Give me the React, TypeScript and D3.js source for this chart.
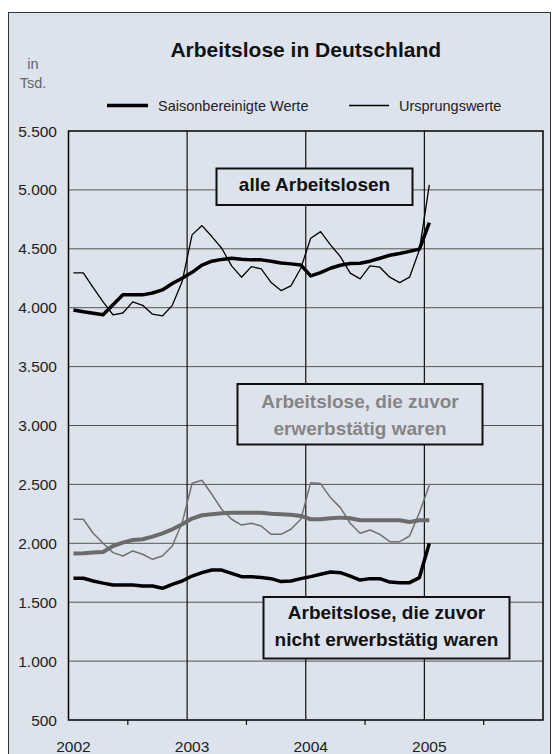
import React, { useEffect, useRef } from "react";
import * as d3 from "d3";

// Jan 2002 .. Jan 2005, in Tsd.
const years = ["2002", "2003", "2004", "2005"];
const yTicks = [500, 1000, 1500, 2000, 2500, 3000, 3500, 4000, 4500, 5000, 5500];

const alleSA = [
  3981, 3965, 3952, 3940, 4025, 4109, 4109, 4109, 4125, 4151, 4205, 4250,
  4300, 4362, 4395, 4410, 4420, 4412, 4406, 4406, 4395, 4380, 4372, 4363,
  4270, 4298, 4335, 4360, 4375, 4378, 4395, 4420, 4445, 4460, 4478, 4497,
  4722,
];
const alleOrig = [
  4295, 4295, 4170, 4050, 3940, 3955, 4050, 4020, 3945, 3930, 4020, 4222,
  4618, 4697, 4604, 4505, 4355, 4259, 4349, 4329, 4213, 4145, 4185, 4335,
  4590, 4646, 4533, 4434, 4293, 4245, 4355, 4344, 4259, 4213, 4259, 4491,
  5042,
];
const erwSA = [
  1913, 1915, 1921, 1926, 1977, 2006, 2028, 2034, 2057, 2085, 2119, 2161,
  2210, 2238, 2246, 2255, 2260, 2260, 2260, 2260, 2250, 2246, 2242, 2232,
  2204, 2204, 2212, 2218, 2212, 2195, 2195, 2195, 2195, 2195, 2181, 2195,
  2195,
];
const erwOrig = [
  2204, 2204, 2085, 2000, 1921, 1892, 1935, 1907, 1864, 1892, 1977, 2176,
  2509, 2535, 2416, 2289, 2204, 2155, 2170, 2147, 2076, 2076, 2119, 2204,
  2515, 2507, 2388, 2303, 2170, 2085, 2113, 2076, 2014, 2014, 2062, 2261,
  2492,
];
const nichtErwSA = [
  1703, 1703, 1680, 1662, 1646, 1646, 1646, 1637, 1637, 1618, 1652, 1680,
  1722, 1751, 1773, 1773, 1745, 1717, 1717, 1709, 1700, 1675, 1680, 1700,
  1717, 1737, 1756, 1751, 1722, 1688, 1700, 1700, 1671, 1666, 1666, 1709,
  2000,
];

const BG = "#dde3ec";

export default function App() {
  const ref = useRef<SVGSVGElement>(null);

  useEffect(() => {
    const svg = d3.select(ref.current);
    svg.selectAll("*").remove();

    const left = 68.5, right = 543, top = 131, bottom = 720;
    const x = d3.scaleLinear().domain([0, 48]).range([left, right]);
    const y = d3.scaleLinear().domain([500, 5500]).range([bottom, top]);

    // outer panel
    svg.append("rect")
      .attr("x", 8.5).attr("y", 12.5)
      .attr("width", 542).attr("height", 760)
      .attr("fill", BG).attr("stroke", "#333").attr("stroke-width", 1);

    // title
    svg.append("text")
      .attr("x", (left + right) / 2).attr("y", 57)
      .attr("text-anchor", "middle")
      .style("font-size", "21px").style("font-weight", "bold")
      .attr("fill", "#111")
      .text("Arbeitslose in Deutschland");

    // unit
    svg.selectAll(".unit")
      .data(["in", "Tsd."])
      .join("text")
      .attr("class", "unit")
      .attr("x", 33).attr("y", (d, i) => 69 + i * 19)
      .attr("text-anchor", "middle")
      .style("font-size", "14.5px")
      .attr("fill", "#666")
      .text((d) => d);

    // legend
    const legend = [
      { label: "Saisonbereinigte Werte", x0: 107, x1: 148, w: 3.5 },
      { label: "Ursprungswerte", x0: 349, x1: 389, w: 1.3 },
    ];
    const lg = svg.selectAll(".legend").data(legend).join("g").attr("class", "legend");
    lg.append("line")
      .attr("x1", (d) => d.x0).attr("x2", (d) => d.x1)
      .attr("y1", 105.5).attr("y2", 105.5)
      .attr("stroke", "#000").attr("stroke-width", (d) => d.w);
    lg.append("text")
      .attr("x", (d) => d.x1 + 10).attr("y", 110.5)
      .style("font-size", "14.5px")
      .attr("fill", "#222")
      .text((d) => d.label);

    // horizontal grid
    svg.selectAll(".hgrid")
      .data(yTicks.slice(1, -1))
      .join("line")
      .attr("class", "hgrid")
      .attr("x1", left).attr("x2", right)
      .attr("y1", (d) => y(d)).attr("y2", (d) => y(d))
      .attr("stroke", "#555").attr("stroke-width", 1);

    // vertical year grid
    svg.selectAll(".vgrid")
      .data([12, 24, 36])
      .join("line")
      .attr("class", "vgrid")
      .attr("x1", (d) => x(d)).attr("x2", (d) => x(d))
      .attr("y1", top).attr("y2", bottom)
      .attr("stroke", "#111").attr("stroke-width", 1.2);

    // mid-year ticks
    svg.selectAll(".xtick")
      .data([6, 18, 30, 42])
      .join("line")
      .attr("class", "xtick")
      .attr("x1", (d) => x(d)).attr("x2", (d) => x(d))
      .attr("y1", bottom).attr("y2", bottom + 5)
      .attr("stroke", "#111").attr("stroke-width", 1.2);

    // y labels
    svg.selectAll(".ylab")
      .data(yTicks)
      .join("text")
      .attr("class", "ylab")
      .attr("x", 57).attr("y", (d) => y(d) + 5.5)
      .attr("text-anchor", "end")
      .style("font-size", "15.5px")
      .attr("fill", "#222")
      .text((d) => d3.format(",")(d).replace(/,/g, "."));

    // x labels
    svg.selectAll(".xlab")
      .data(years)
      .join("text")
      .attr("class", "xlab")
      .attr("x", (d, i) => x(i * 12 + 0.5)).attr("y", 752)
      .attr("text-anchor", "middle")
      .style("font-size", "15.5px")
      .attr("fill", "#222")
      .text((d) => d);

    // series
    const line = d3.line<number>()
      .x((d, i) => x(i + 0.5))
      .y((d) => y(d));
    const series = [
      { data: erwOrig, color: "#707070", w: 1.5 },
      { data: erwSA, color: "#6b6b6b", w: 4 },
      { data: alleOrig, color: "#000", w: 1.3 },
      { data: alleSA, color: "#000", w: 3.5 },
      { data: nichtErwSA, color: "#000", w: 3.5 },
    ];
    svg.selectAll(".series")
      .data(series)
      .join("path")
      .attr("class", "series")
      .attr("d", (d) => line(d.data))
      .attr("fill", "none")
      .attr("stroke", (d) => d.color)
      .attr("stroke-width", (d) => d.w)
      .attr("stroke-linejoin", "round");

    // plot frame
    svg.append("rect")
      .attr("x", left).attr("y", top)
      .attr("width", right - left).attr("height", bottom - top)
      .attr("fill", "none").attr("stroke", "#000").attr("stroke-width", 1.5);

    // annotation boxes
    const boxes = [
      { lines: ["alle Arbeitslosen"], x0: 216.5, x1: 412.5, y0: 168.5, y1: 205, base: 191, color: "#111" },
      { lines: ["Arbeitslose, die zuvor", "erwerbstätig waren"], x0: 237.5, x1: 482.5, y0: 384, y1: 444.5, base: 407.5, color: "#858585" },
      { lines: ["Arbeitslose, die zuvor", "nicht erwerbstätig waren"], x0: 263.5, x1: 509.5, y0: 597, y1: 658.5, base: 619, color: "#111" },
    ];
    const bg = svg.selectAll(".box").data(boxes).join("g").attr("class", "box");
    bg.append("rect")
      .attr("x", (d) => d.x0).attr("y", (d) => d.y0)
      .attr("width", (d) => d.x1 - d.x0).attr("height", (d) => d.y1 - d.y0)
      .attr("fill", BG).attr("stroke", "#111").attr("stroke-width", 2);
    bg.each(function (d) {
      d3.select(this).selectAll("text")
        .data(d.lines)
        .join("text")
        .attr("x", (d.x0 + d.x1) / 2)
        .attr("y", (t, i) => d.base + i * 27)
        .attr("text-anchor", "middle")
        .style("font-size", "19px").style("font-weight", "bold")
        .attr("fill", d.color)
        .text((t) => t);
    });
  }, []);

  return (
    <svg
      ref={ref}
      width={552}
      height={754}
      style={{ position: "absolute", left: 0, top: 0, fontFamily: "'Liberation Sans', Arial, sans-serif" }}
    />
  );
}
